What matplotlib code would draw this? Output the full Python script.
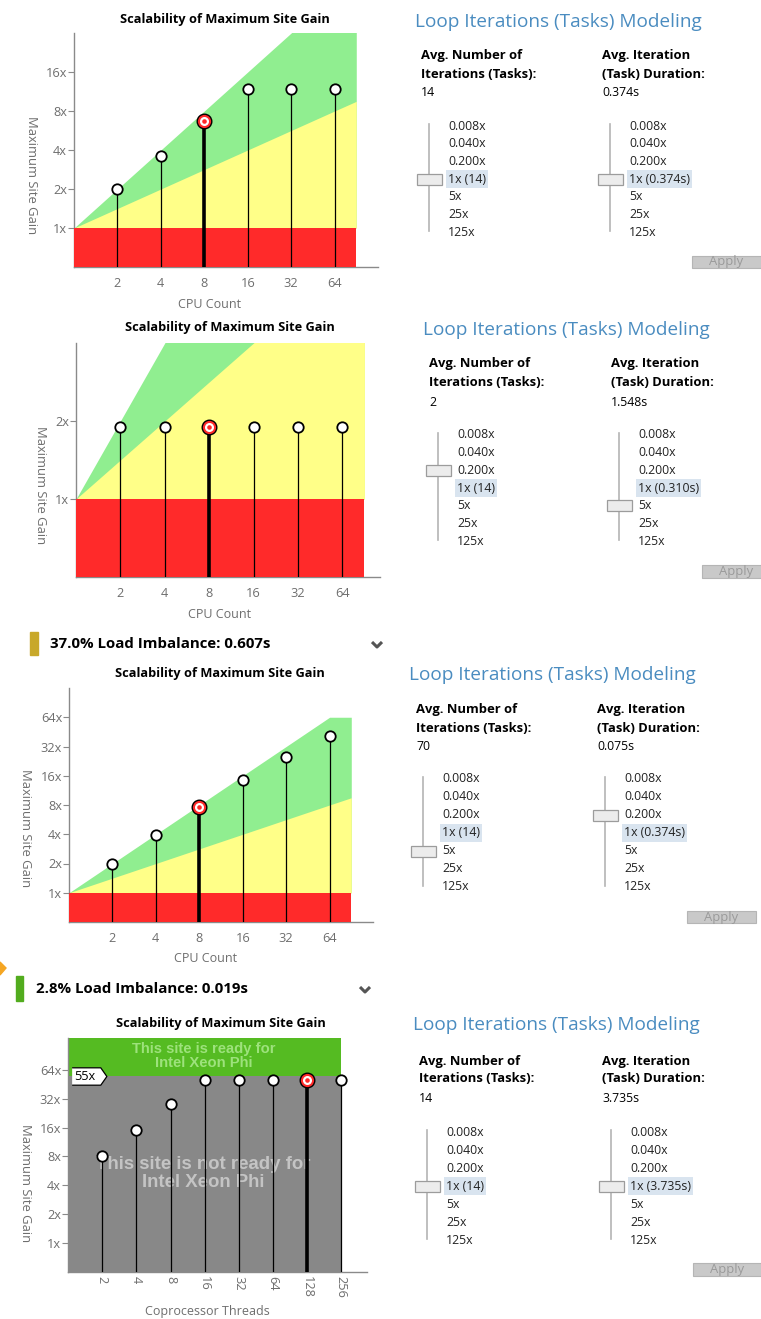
import matplotlib
matplotlib.use("Agg")
import matplotlib.pyplot as plt
from matplotlib.patches import Rectangle, Polygon
from matplotlib import transforms

plt.rcParams["font.family"] = ["Open Sans", "DejaVu Sans"]

W, H = 761, 1319

# ---- chart data -------------------------------------------------------
CPU_COUNTS = [2, 4, 8, 16, 32, 64]
GAIN_A = [2.0, 3.6, 6.7, 11.8, 11.8, 11.8]
GAIN_B = [1.9, 1.9, 1.9, 1.9, 1.9, 1.9]
GAIN_C = [2.0, 3.9, 7.7, 14.5, 25.0, 41.0]
THREADS = [2, 4, 8, 16, 32, 64, 128, 256]
GAIN_D = [8.0, 15.0, 28.0, 50.0, 50.0, 50.0, 50.0, 50.0]
SELECTED = [8, 8, 8, 128]

# zone edges (x, top of green zone, top of yellow zone)
ZONE_X = [1, 64, 90.5]
GREEN_TOP = [1, 64, 90.5]
GREEN_TOP_C = [1, 64, 64]
YELLOW_TOP = [1, 8, 9.5]

YTICKS_A = [1, 2, 4, 8, 16]
YTICKS_B = [1, 2]
YTICKS_C = [1, 2, 4, 8, 16, 32, 64]
YTICKS_D = [1, 2, 4, 8, 16, 32, 64]

PHI_THRESHOLD = 55
PHI_X = [1, 256]

# ---- modeling panel data ---------------------------------------------
ITER_VALUES = ["14", "2", "70", "14"]
DUR_VALUES = ["0.374s", "1.548s", "0.075s", "3.735s"]
ITER_BASE = ["1x (14)", "1x (14)", "1x (14)", "1x (14)"]
DUR_BASE = ["1x (0.374s)", "1x (0.310s)", "1x (0.374s)", "1x (3.735s)"]
STEPS = ["0.008x", "0.040x", "0.200x", None, "5x", "25x", "125x"]
ITER_THUMB = [3, 2, 4, 3]
DUR_THUMB = [3, 4, 2, 3]

HEADERS = ["37.0% Load Imbalance: 0.607s", "2.8% Load Imbalance: 0.019s"]

GREEN = "#90ee90"
YELLOW = "#ffff88"
RED = "#ff2a2a"
AXIS_GRAY = "#8a8a8a"
TEXT_GRAY = "#6e6e6e"

fig = plt.figure(figsize=(W / 100, H / 100), dpi=100)
ui = fig.add_axes([0, 0, 1, 1], zorder=0)
ui.set_xlim(0, W)
ui.set_ylim(H, 0)
ui.axis("off")


def make_axes(box):
    l, t, r, b = box
    ax = fig.add_axes([l / W, 1 - b / H, (r - l) / W, (b - t) / H], zorder=1)
    ax.set_facecolor("none")
    ax.set_xscale("log", base=2)
    ax.set_yscale("log", base=2)
    return ax


def frac(box, px, py):
    l, t, r, b = box
    return (px - l) / (r - l), (b - py) / (b - t)


def style_axes(ax, box, xticks, yticks, title, title_xy, xlabel, xlabel_xy,
               ylabel_xy, xrot=0):
    ax.set_xticks(xticks)
    ax.set_xticklabels([str(v) for v in xticks], rotation=xrot)
    ax.set_yticks(yticks)
    ax.set_yticklabels([f"{v}x" for v in yticks])
    ax.yaxis.set_minor_locator(plt.NullLocator())
    ax.xaxis.set_minor_locator(plt.NullLocator())
    for side in ("top", "right"):
        ax.spines[side].set_visible(False)
    for side in ("left", "bottom"):
        ax.spines[side].set_color(AXIS_GRAY)
        ax.spines[side].set_linewidth(1.0)
    ax.tick_params(axis="y", length=4, width=0.8, color=AXIS_GRAY,
                   labelcolor=TEXT_GRAY, labelsize=9.2, pad=1)
    ax.tick_params(axis="x", length=0, labelcolor=TEXT_GRAY,
                   labelsize=9.2, pad=7 if xrot == 0 else 3)
    tx, ty = frac(box, *title_xy)
    ax.set_title(title, x=tx, y=ty, va="center", pad=0,
                 fontsize=9.2, fontweight="bold", color="black")
    ax.set_xlabel(xlabel, fontsize=9.0, color=TEXT_GRAY)
    ax.xaxis.set_label_coords(*frac(box, *xlabel_xy))
    ax.xaxis.label.set_va("center")
    ax.set_ylabel("Maximum Site Gain", fontsize=9.4, color=TEXT_GRAY,
                  rotation=270)
    ax.yaxis.set_label_coords(*frac(box, *ylabel_xy))
    ax.yaxis.label.set_va("center")


def stems(ax, xs, ys, selected):
    for x, y in zip(xs, ys):
        lw = 2.6 if x == selected else 0.9
        ax.vlines(x, 0.5, y, color="black", lw=lw, zorder=4)
        if x == selected:
            ax.plot(x, y, "o", ms=10.5, mfc=RED, mec="black", mew=1.0, zorder=6)
            ax.plot(x, y, "o", ms=6.5, mfc="white", mec="none", zorder=7)
            ax.plot(x, y, "o", ms=3.3, mfc=RED, mec="none", zorder=8)
        else:
            ax.plot(x, y, "o", ms=7.5, mfc="white", mec="black", mew=1.3,
                    zorder=6)


def zones(ax, green_top):
    ax.fill_between(ZONE_X, 1, green_top, color=GREEN, lw=0, zorder=1)
    ax.fill_between(ZONE_X, 1, YELLOW_TOP, color=YELLOW, lw=0, zorder=2)
    ax.fill_between(ZONE_X, 0.5, 1, color=RED, lw=0, zorder=3)


# ---- chart A -----------------------------------------------------------
box = (74, 33, 378, 267)
ax = make_axes(box)
zones(ax, GREEN_TOP)
stems(ax, CPU_COUNTS, GAIN_A, SELECTED[0])
ax.set_xlim(1, 128)
ax.set_ylim(0.5, 32)
style_axes(ax, box, CPU_COUNTS, YTICKS_A, "Scalability of Maximum Site Gain",
           (225, 19), "CPU Count", (210, 304), (31, 175))

# ---- chart B -----------------------------------------------------------
box = (76, 343, 380, 577)
ax = make_axes(box)
zones(ax, GREEN_TOP)
stems(ax, CPU_COUNTS, GAIN_B, SELECTED[1])
ax.set_xlim(1, 2 ** 6.85)
ax.set_ylim(0.5, 4)
style_axes(ax, box, CPU_COUNTS, YTICKS_B, "Scalability of Maximum Site Gain",
           (230, 328), "CPU Count", (220, 614), (40, 485))

# ---- chart C -----------------------------------------------------------
box = (69, 688, 373, 922)
ax = make_axes(box)
zones(ax, GREEN_TOP_C)
stems(ax, CPU_COUNTS, GAIN_C, SELECTED[2])
ax.set_xlim(1, 128)
ax.set_ylim(0.5, 128)
style_axes(ax, box, CPU_COUNTS, YTICKS_C, "Scalability of Maximum Site Gain",
           (220, 673), "CPU Count", (206, 959), (25, 828))

# ---- chart D -----------------------------------------------------------
box = (68, 1038, 367, 1272)
ax = make_axes(box)
ytop = 2 ** 7.1
ax.fill_between(PHI_X, 0.5, PHI_THRESHOLD, color="#888888", lw=0, zorder=1)
ax.fill_between(PHI_X, PHI_THRESHOLD, ytop, color="#55bb22", lw=0, zorder=1)
ax.text(2 ** 3.96, 2 ** 6.47, "This site is ready for\nIntel Xeon Phi",
        ha="center", va="center", color="#9de27c", fontsize=10.6,
        fontweight="bold", family="Liberation Sans", linespacing=0.95, zorder=2)
ax.text(2 ** 3.96, 2 ** 2.42, "This site is not ready for\nIntel Xeon Phi",
        ha="center", va="center", color="#c4c4c4", fontsize=13.4,
        fontweight="bold", family="Liberation Sans", linespacing=1.08, zorder=2)
stems(ax, THREADS, GAIN_D, SELECTED[3])
ax.set_xlim(1, 2 ** 8.75)
ax.set_ylim(0.5, ytop)
style_axes(ax, box, THREADS, YTICKS_D, "Scalability of Maximum Site Gain",
           (221, 1023), "Coprocessor Threads", (207, 1312), (25, 1183),
           xrot=270)
flag_tr = transforms.blended_transform_factory(ax.transAxes, ax.transData)
flag = [(-1, -0.5), (0.65, -0.5), (1, 0), (0.65, 0.5), (-1, 0.5)]
ax.plot([0.069], [PHI_THRESHOLD], marker=flag, ms=25, mfc="white", mec="black",
        mew=0.9, transform=flag_tr, clip_on=False, zorder=9)
ax.text(0.02, PHI_THRESHOLD, f"{PHI_THRESHOLD}x", transform=flag_tr,
        ha="left", va="center", fontsize=9.2, color="black", zorder=10)

# ---- section headers ---------------------------------------------------
ui.add_patch(Rectangle((30, 632), 8, 23, color="#c8a82a"))
ui.text(50, 644, HEADERS[0], fontsize=10.8, fontweight="bold", va="center")
ui.add_patch(Rectangle((16, 976), 7, 25, color="#52ac1e"))
ui.text(36, 989, HEADERS[1], fontsize=10.8, fontweight="bold", va="center")
for cx, cy in [(377, 644), (365, 989)]:
    ui.plot([cx - 5, cx, cx + 5], [cy - 2, cy + 3, cy - 2], color="#555555",
            lw=2.2, solid_capstyle="butt")
ui.add_patch(Polygon([(0, 962), (6, 968), (0, 975)], color="#f5a623"))


# ---- modeling panels -----------------------------------------------------
def modeling_panel(i, title_xy, col_x, row_y, slider_x, opt_y0, step, apply_box):
    ui.text(title_xy[0], title_xy[1], "Loop Iterations (Tasks) Modeling",
            fontsize=13.7, color="#4a8cc0", va="center")
    heads = [["Avg. Number of", "Iterations (Tasks):", ITER_VALUES[i]],
             ["Avg. Iteration", "(Task) Duration:", DUR_VALUES[i]]]
    bases = [ITER_BASE[i], DUR_BASE[i]]
    thumbs = [ITER_THUMB[i], DUR_THUMB[i]]
    for k in range(2):
        x = col_x[k]
        ui.text(x, row_y[0], heads[k][0], fontsize=9.4, fontweight="bold",
                va="center")
        ui.text(x, row_y[1], heads[k][1], fontsize=9.4, fontweight="bold",
                va="center")
        ui.text(x, row_y[2], heads[k][2], fontsize=8.8, va="center")
        lx = slider_x[k]
        ui.plot([lx, lx], [opt_y0 - 2, opt_y0 + 6 * step - 1],
                color="#b4b4b4", lw=1.2)
        for j, s in enumerate(STEPS):
            y = opt_y0 + j * step
            if s is None:
                ui.text(lx + 19, y, bases[k], fontsize=8.8, va="center",
                        color="#222222",
                        bbox=dict(facecolor="#d9e4ef", edgecolor="none",
                                  pad=1.6))
            else:
                ui.text(lx + 19, y, s, fontsize=8.8, va="center",
                        color="#222222")
        ty = opt_y0 + thumbs[k] * step
        ui.add_patch(Rectangle((lx - 12, ty - 5.5), 25, 11, facecolor="#ececec",
                               edgecolor="#9c9c9c", lw=0.9, zorder=5))
    x0, y0, x1, y1 = apply_box
    ui.add_patch(Rectangle((x0, y0), x1 - x0, y1 - y0, facecolor="#c9c9c9",
                           edgecolor="#b5b5b5", lw=0.8))
    ui.text(x0 + 34, (y0 + y1) / 2, "Apply", fontsize=9.4, color="#9a9a9a",
            ha="center", va="center")


modeling_panel(0, (415, 22), (421, 602), (55, 74, 93), (429, 610), 126, 17.7,
               (692, 256, 762, 268))
modeling_panel(1, (423, 330), (429, 611), (364, 383, 402), (438, 619), 435,
               17.7, (702, 565, 762, 578))
modeling_panel(2, (409, 675), (416, 597), (710, 728, 747), (423, 605), 779,
               18.0, (687, 911, 756, 923))
modeling_panel(3, (413, 1025), (419, 602), (1061, 1079, 1098), (427, 611),
               1132, 18.0, (693, 1263, 762, 1276))

fig.savefig("out.png", dpi=100)
